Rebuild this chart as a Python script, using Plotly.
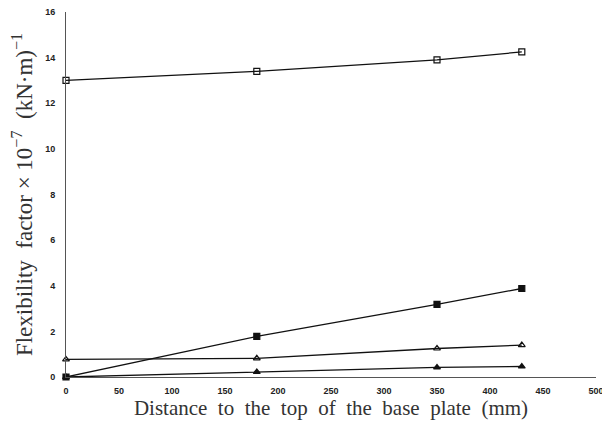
import plotly.graph_objects as go

distance = [0, 180, 350, 430]
series_open_sq = [13.0, 13.4, 13.9, 14.25]
series_filled_sq = [0.0, 1.78, 3.18, 3.88]
series_open_tri = [0.77, 0.82, 1.25, 1.4]
series_filled_tri = [0.0, 0.22, 0.42, 0.46]

x_ticks = [0, 50, 100, 150, 200, 250, 300, 350, 400, 450, 500]
y_ticks = [0, 2, 4, 6, 8, 10, 12, 14, 16]

fig = go.Figure()

def add(y, symbol, color_fill):
    fig.add_trace(go.Scatter(
        x=distance, y=y, mode="lines+markers",
        line=dict(color="#111", width=1.3),
        marker=dict(symbol=symbol, size=6, color=color_fill,
                    line=dict(color="#111", width=1.2)),
        showlegend=False, cliponaxis=False))

add(series_open_sq, "square-open", "#111")
add(series_filled_sq, "square", "#111")
add(series_open_tri, "triangle-up-open", "#111")
add(series_filled_tri, "triangle-up", "#111")

tickfont = dict(family="Liberation Sans, Arial", size=9, color="#222", weight="bold")

fig.update_layout(
    width=602, height=425,
    margin=dict(l=66, r=6, t=12, b=48),
    paper_bgcolor="white", plot_bgcolor="white",
    xaxis=dict(range=[0, 500], tickvals=x_ticks, showgrid=False, zeroline=False,
               showline=True, linecolor="#555", linewidth=1, ticks="", ticklen=0,
               ticklabeloverflow="allow", automargin=False, ticklabelstandoff=5,
               tickfont=tickfont,
               title=dict(text="Distance  to  the  top  of  the  base  plate  (mm)",
                          font=dict(family="Liberation Serif, Times New Roman", size=21, color="#333"),
                          standoff=0)),
    yaxis=dict(range=[0, 16], tickvals=y_ticks, showgrid=False, zeroline=False,
               showline=True, linecolor="#555", linewidth=1, ticks="", ticklen=0,
               automargin=False, ticklabelstandoff=8,
               tickfont=tickfont,
               title=dict(text="Flexibility  factor × 10<sup>−7</sup>  (kN·m)<sup>−1</sup>",
                          font=dict(family="Liberation Serif, Times New Roman", size=23, color="#333"),
                          standoff=6)),
)

fig.write_html("out.html", config={"displayModeBar": False},
               post_script="document.body.style.margin='0';")
